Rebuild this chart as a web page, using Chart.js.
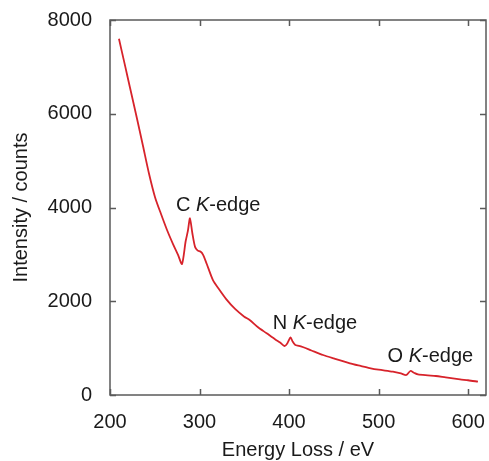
<!DOCTYPE html>
<html>
<head>
<meta charset="utf-8">
<script src="https://cdn.jsdelivr.net/npm/chart.js@4/dist/chart.umd.min.js"></script>
<style>
  html, body { margin: 0; padding: 0; background: #ffffff; }
  #wrap { width: 489px; height: 461px; }
</style>
</head>
<body>
<div id="wrap"><canvas id="c" width="489" height="461"></canvas></div>
<script>
// ---- data ----
const energyEV = [210, 217, 222.3, 230, 237, 243.6, 250.3, 257, 263.7, 270.4, 276, 280.4, 284.5, 287, 289.3, 292, 295, 298, 301, 304, 308, 315, 322, 330, 340, 350, 356, 365, 375, 385, 390, 395, 398, 401.7, 404, 407, 411, 416, 425, 438, 450, 468, 480, 490, 500, 516, 525, 531, 535.5, 540, 544, 555, 564, 575, 591, 600, 611];
const intensity = [7600, 7010, 6560, 5910, 5300, 4720, 4220, 3860, 3520, 3220, 2990, 2795, 3280, 3500, 3770, 3450, 3160, 3080, 3060, 2990, 2800, 2450, 2250, 2040, 1830, 1670, 1600, 1450, 1316, 1180, 1120, 1045, 1100, 1230, 1140, 1065, 1050, 1018, 950, 853, 780, 676, 620, 575, 540, 498, 460, 427, 512, 470, 441, 420, 405, 375, 334, 315, 285];
const xTickValues = [200, 300, 400, 500, 600];
const yTickValues = [0, 2000, 4000, 6000, 8000];
const edgeLabels = ['C', 'N', 'O'];
const edgeLabelEV = [273.7, 381.7, 510];
const edgeLabelCounts = [4036, 1530, 826];

const FONT = "'Liberation Sans', Arial, Helvetica, sans-serif";
const TEXT = '#1a1a1a';
const FRAME = '#5a5a5a';

const framePlugin = {
  id: 'frameTicks',
  afterDraw(chart) {
    const ctx = chart.ctx, a = chart.chartArea;
    const xs = chart.scales.x, ys = chart.scales.y;
    ctx.save();
    ctx.strokeStyle = FRAME;
    ctx.lineWidth = 1.5;
    ctx.strokeRect(a.left, a.top, a.right - a.left, a.bottom - a.top);
    const L = 6;
    ctx.beginPath();
    xTickValues.forEach(v => {
      const px = Math.round(xs.getPixelForValue(v)) + 0.5;
      ctx.moveTo(px, a.bottom); ctx.lineTo(px, a.bottom - L);
      ctx.moveTo(px, a.top); ctx.lineTo(px, a.top + L);
    });
    yTickValues.forEach(v => {
      const py = Math.round(ys.getPixelForValue(v)) + 0.5;
      ctx.moveTo(a.left, py); ctx.lineTo(a.left + L, py);
      ctx.moveTo(a.right, py); ctx.lineTo(a.right - L, py);
    });
    ctx.stroke();
    ctx.restore();
  }
};

const edgePlugin = {
  id: 'edgeLabels',
  afterDatasetsDraw(chart) {
    const ctx = chart.ctx;
    const xs = chart.scales.x, ys = chart.scales.y;
    ctx.save();
    ctx.fillStyle = TEXT;
    ctx.textBaseline = 'middle';
    ctx.textAlign = 'left';
    edgeLabels.forEach((el, i) => {
      let x = xs.getPixelForValue(edgeLabelEV[i]);
      const y = ys.getPixelForValue(edgeLabelCounts[i]);
      const parts = [[el + ' ', 'normal'], ['K', 'italic'], ['-edge', 'normal']];
      parts.forEach(([t, st]) => {
        ctx.font = st + ' 20px ' + FONT;
        ctx.fillText(t, x, y);
        x += ctx.measureText(t).width;
      });
    });
    ctx.restore();
  }
};

new Chart(document.getElementById('c'), {
  type: 'line',
  data: {
    datasets: [{
      data: energyEV.map((e, i) => ({ x: e, y: intensity[i] })),
      borderColor: '#d7232b',
      borderWidth: 1.8,
      pointRadius: 0,
      tension: 0.25,
      fill: false
    }]
  },
  options: {
    responsive: false,
    animation: false,
    devicePixelRatio: 1,
    layout: { padding: { top: 20, right: 3, left: 0, bottom: 0 } },
    plugins: { legend: { display: false }, tooltip: { enabled: false } },
    scales: {
      x: {
        type: 'linear',
        min: 200, max: 620,
        afterBuildTicks: s => { s.ticks = xTickValues.map(v => ({ value: v })); },
        afterFit: s => { s.height = 66; s.paddingLeft = 0; s.paddingRight = 0; },
        grid: { display: false, drawTicks: false },
        border: { display: false },
        ticks: { color: TEXT, font: { family: FONT, size: 20 }, padding: 15, maxRotation: 0, callback: v => String(v) },
        title: { display: true, text: 'Energy Loss / eV', color: TEXT, font: { family: FONT, size: 20, lineHeight: 1 }, padding: { top: 0, bottom: 1 } }
      },
      y: {
        type: 'linear',
        min: 0, max: 8000,
        afterBuildTicks: s => { s.ticks = yTickValues.map(v => ({ value: v })); },
        afterFit: s => { s.width = 110; s.paddingTop = 0; s.paddingBottom = 0; },
        grid: { display: false, drawTicks: false },
        border: { display: false },
        ticks: { color: TEXT, font: { family: FONT, size: 20 }, padding: 18, callback: v => String(v) },
        title: { display: true, text: 'Intensity / counts', color: TEXT, font: { family: FONT, size: 20, lineHeight: 1 }, padding: { top: 11, bottom: 0 } }
      }
    }
  },
  plugins: [framePlugin, edgePlugin]
});
</script>
</body>
</html>
